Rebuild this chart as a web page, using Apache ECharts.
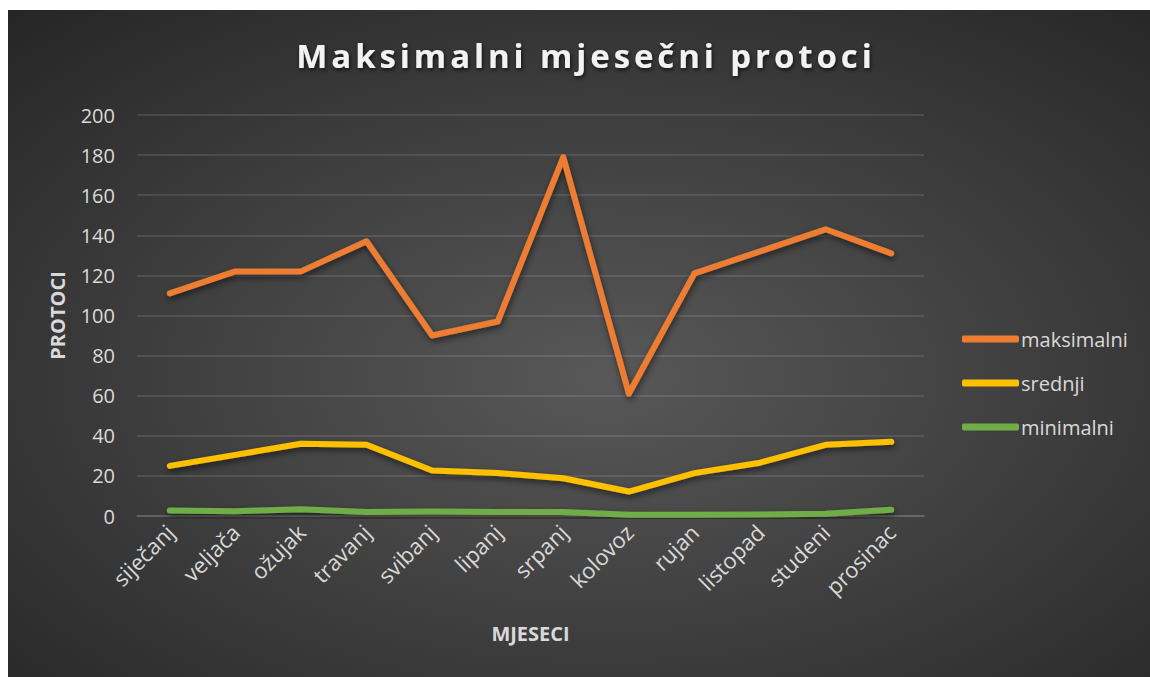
<!DOCTYPE html>
<html>
<head>
<meta charset="utf-8">
<script src="https://cdn.jsdelivr.net/npm/echarts@6/dist/echarts.min.js"></script>
<style>
html,body{margin:0;padding:0;background:#fff;width:1150px;height:677px;overflow:hidden;}
#chart{position:absolute;left:8px;top:10px;width:1142px;height:667px;}
#chart text[style*="33px"]{letter-spacing:3.9px;}
</style>
</head>
<body>
<div id="chart"></div>
<script>
const months = ['siječanj','veljača','ožujak','travanj','svibanj','lipanj','srpanj','kolovoz','rujan','listopad','studeni','prosinac'];
const maksimalni = [111, 122, 122, 137, 90, 97, 179, 61, 121, 132, 143, 131];
const srednji = [25, 30.5, 36, 35.5, 22.7, 21.4, 18.8, 12.2, 21.4, 26.6, 35.5, 37];
const minimalni = [2.8, 2.4, 3.4, 2, 2.3, 2, 2, 0.6, 0.6, 0.8, 1.1, 3.1];
const yTicks = {min: 0, max: 200, interval: 20};
const titleText = 'Maksimalni mjesečni protoci';

const FONT = '"Open Sans", sans-serif';
const chart = echarts.init(document.getElementById('chart'), null, {renderer: 'svg'});
const lineShadow = {shadowColor: 'rgba(0,0,0,0.55)', shadowBlur: 6, shadowOffsetX: 1, shadowOffsetY: 3};
function mk(name, data, color) {
  return {
    name, type: 'line', data, showSymbol: false, symbol: 'none', smooth: false,
    lineStyle: Object.assign({color, width: 6, cap: 'round', join: 'round'}, lineShadow),
    itemStyle: {color}
  };
}
chart.setOption({
  animation: false,
  backgroundColor: {
    type: 'radial', x: 0.52, y: 0.55, r: 0.75,
    colorStops: [{offset: 0, color: '#585858'}, {offset: 1, color: '#262626'}]
  },
  textStyle: {fontFamily: FONT},
  title: {
    text: titleText, left: 573, top: 24, textAlign: 'center',
    textStyle: {fontFamily: FONT, fontSize: 33, fontWeight: 'bold', color: '#f2f2f2',
      textShadowColor: 'rgba(0,0,0,0.7)', textShadowBlur: 4, textShadowOffsetX: 1, textShadowOffsetY: 2}
  },
  grid: {left: 129, right: 226, top: 105, bottom: 161, containLabel: false},
  legend: {
    orient: 'vertical', left: 949, top: 314, itemWidth: 57, itemHeight: 7, itemGap: 24,
    icon: 'roundRect',
    textStyle: {color: '#d9d9d9', fontSize: 20, fontFamily: FONT, padding: [0, 0, 0, -3]},
    data: ['maksimalni', 'srednji', 'minimalni']
  },
  xAxis: {
    type: 'category', data: months, boundaryGap: true,
    name: 'MJESECI', nameLocation: 'middle', nameGap: 107,
    nameTextStyle: {color: '#d9d9d9', fontSize: 20, fontWeight: 'bold', fontFamily: FONT},
    axisLine: {show: true, lineStyle: {color: 'rgba(255,255,255,0.14)', width: 1.5}},
    axisTick: {show: false},
    axisLabel: {color: '#d9d9d9', fontSize: 22, fontFamily: FONT, rotate: 45, margin: 12, interval: 0}
  },
  yAxis: {
    type: 'value', min: yTicks.min, max: yTicks.max, interval: yTicks.interval,
    name: 'PROTOCI', nameLocation: 'middle', nameGap: 70, nameRotate: 90,
    nameTextStyle: {color: '#d9d9d9', fontSize: 20, fontWeight: 'bold', fontFamily: FONT},
    axisLine: {show: false}, axisTick: {show: false},
    axisLabel: {color: '#d9d9d9', fontSize: 20, fontFamily: FONT, margin: 22},
    splitLine: {lineStyle: {color: 'rgba(255,255,255,0.14)', width: 1.5}}
  },
  series: [
    mk('maksimalni', maksimalni, '#ED7D31'),
    mk('srednji', srednji, '#FFC000'),
    mk('minimalni', minimalni, '#70AD47')
  ]
});
</script>
</body>
</html>
